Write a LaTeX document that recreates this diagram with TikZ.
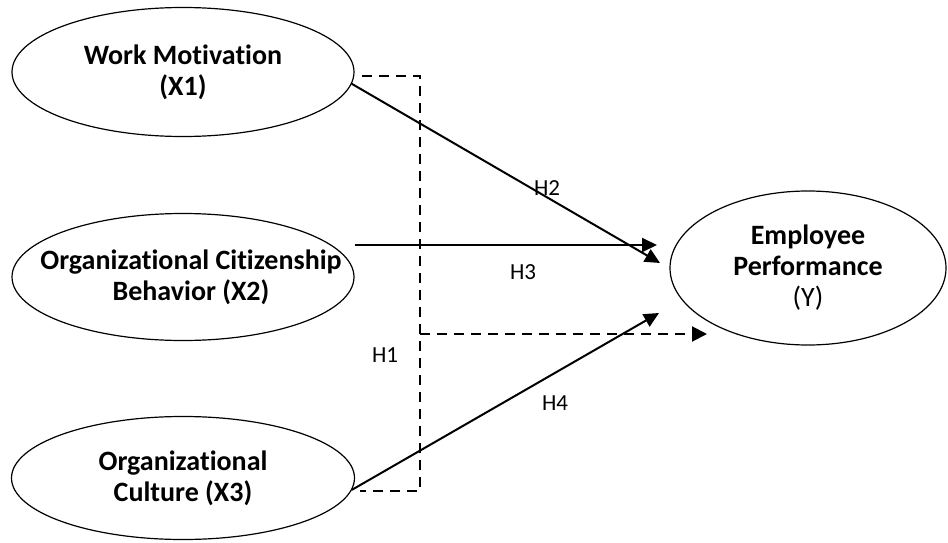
\documentclass[tikz,border=0pt]{standalone}
\usepackage{fontspec}
\setmainfont{Carlito}[Ligatures=NoCommon]
\usetikzlibrary{shapes.geometric,arrows.meta}
\tikzset{
    var/.style={shape=ellipse,draw=black,line width=1.2pt,inner sep=0pt},
    vartext/.style={align=center,font=\fontsize{28}{31}\selectfont\bfseries},
    path/.style={line width=2pt,-{Triangle[length=15pt,width=14pt]}},
    dashpath/.style={line width=2pt,dash pattern=on 10pt off 7pt},
    hyp/.style={font=\fontsize{23}{27}\selectfont}
}
\begin{document}
\begin{tikzpicture}[x=1pt,y=-1pt]
    \useasboundingbox (0,0) rectangle (948,543);
    \node[var,minimum width=342,minimum height=129,
        label={[vartext]center:Work Motivation\\(X1)}] (x1) at (183,72) {};
    \node[var,minimum width=342,minimum height=127,
        label={[vartext,xshift=8pt]center:Organizational Citizenship\\Behavior (X2)}] (x2) at (183,277) {};
    \node[var,minimum width=343,minimum height=123,
        label={[vartext]center:Organizational\\Culture (X3)}] (x3) at (183,478) {};
    \node[var,minimum width=276,minimum height=154,
        label={[vartext]center:Employee\\Performance\\{\mdseries (Y)}}] (y) at (808,268) {};
    \coordinate (h2e) at (660,263);
    \coordinate (h3e) at (657,245);
    \coordinate (h4e) at (659,313);
    \coordinate (d1) at (362,76);
    \coordinate (d2) at (420,76);
    \coordinate (d3) at (420,491);
    \coordinate (d4) at (360,491);
    \coordinate (d5) at (420,334);
    \coordinate (d6) at (707,334);
    \draw [dashpath] (d1) -- (d2) -- (d3) -- (d4);
    \draw [dashpath,-{Triangle[length=15pt,width=15pt]}] (d5) -- (d6);
    \path [path] (x1.-4) edge (h2e);
    \path [path] (x2.east |- h3e) edge (h3e);
    \path [path] (x3.-4) edge (h4e);
    \node[hyp] (h1) at (385,355) {H1};
    \node[hyp] (h2) at (547,188) {H2};
    \node[hyp] (h3) at (523,272) {H3};
    \node[hyp] (h4) at (555,403) {H4};
\end{tikzpicture}
\end{document}
